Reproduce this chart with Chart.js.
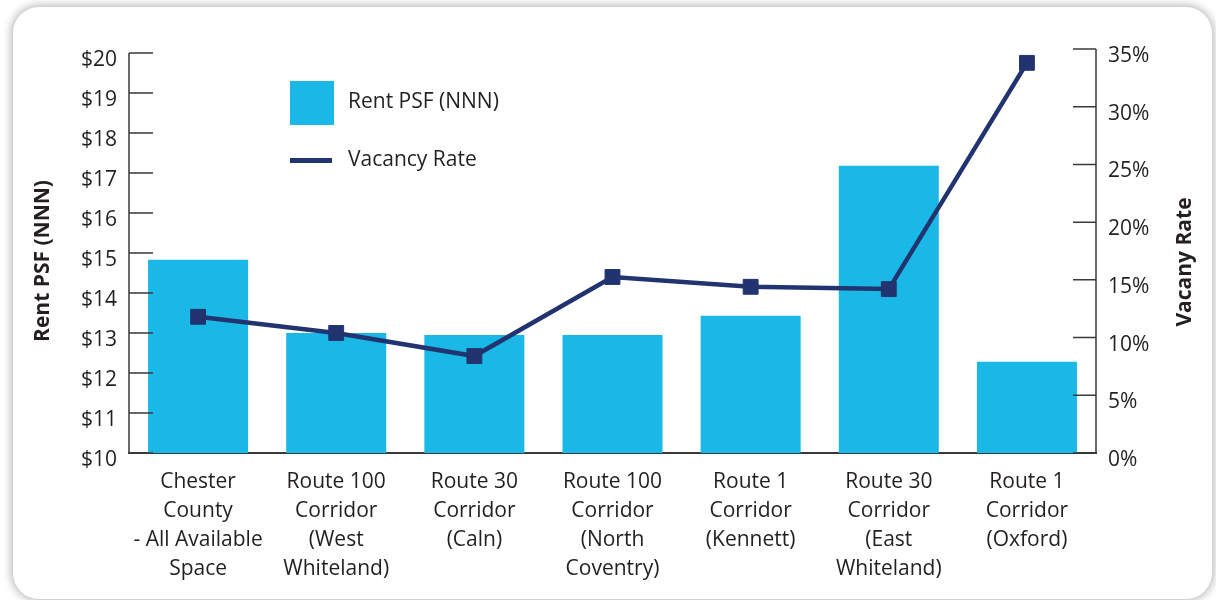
<!DOCTYPE html>
<html>
<head>
<meta charset="utf-8">
<script src="https://cdn.jsdelivr.net/npm/chart.js@4.4.1/dist/chart.umd.min.js"></script>
<style>
  html, body { margin: 0; padding: 0; background: #ffffff; }
  #wrap { position: relative; width: 1216px; height: 600px; overflow: hidden; }
  #card { position: absolute; left: 13px; top: 7px; width: 1199px; height: 592px;
          background: #fff; border-radius: 26px; box-shadow: 0 0 9px 2px rgba(0,0,0,0.28); }
  #c { position: absolute; left: 0; top: 0; }
</style>
</head>
<body>
<div id="wrap">
  <div id="card"></div>
  <canvas id="c" width="1216" height="600"></canvas>
</div>
<script>
const categories = [
  ["Chester", "County", "- All Available", "Space"],
  ["Route 100", "Corridor", "(West", "Whiteland)"],
  ["Route 30", "Corridor", "(Caln)"],
  ["Route 100", "Corridor", "(North", "Coventry)"],
  ["Route 1", "Corridor", "(Kennett)"],
  ["Route 30", "Corridor", "(East", "Whiteland)"],
  ["Route 1", "Corridor", "(Oxford)"]
];
const rentPSF = [14.83, 13.0, 12.95, 12.95, 13.43, 17.18, 12.28];
const vacancyRate = [11.8, 10.4, 8.4, 15.25, 14.4, 14.2, 33.8];
const rentTicks = [10, 11, 12, 13, 14, 15, 16, 17, 18, 19, 20];
const vacancyTicks = [0, 5, 10, 15, 20, 25, 30, 35];
const leftTitle = 'Rent PSF (NNN)';
const rightTitle = 'Vacany Rate';

const BAR_COLOR = '#1ab8e6';
const LINE_COLOR = '#22346f';
const TEXT_COLOR = '#231f20';
const AXIS_COLOR = '#3a3a3a';
const FONT = '"Open Sans", "DejaVu Sans", sans-serif';

const axisPlugin = {
  id: 'axisPlugin',
  afterDraw(chart) {
    const ctx = chart.ctx;
    const yL = chart.scales.yRent, yR = chart.scales.yVac;
    ctx.save();
    ctx.strokeStyle = AXIS_COLOR;
    ctx.lineWidth = 1.5;
    // left axis
    const lx = chart.chartArea.left;
    ctx.beginPath();
    ctx.moveTo(lx, yL.getPixelForValue(rentTicks[rentTicks.length - 1]));
    ctx.lineTo(lx, yL.getPixelForValue(rentTicks[0]));
    rentTicks.forEach(v => {
      const y = yL.getPixelForValue(v);
      ctx.moveTo(lx, y); ctx.lineTo(lx + 24, y);
    });
    ctx.stroke();
    // right axis
    const rx = chart.chartArea.right;
    ctx.beginPath();
    ctx.moveTo(rx, yR.getPixelForValue(vacancyTicks[vacancyTicks.length - 1]));
    ctx.lineTo(rx, yR.getPixelForValue(vacancyTicks[0]));
    vacancyTicks.forEach(v => {
      const y = yR.getPixelForValue(v);
      ctx.moveTo(rx, y); ctx.lineTo(rx - 23, y);
    });
    ctx.stroke();

    // axis titles (both read bottom-to-top)
    ctx.fillStyle = TEXT_COLOR;
    ctx.font = 'bold 21px ' + FONT;
    ctx.textAlign = 'center';
    ctx.textBaseline = 'middle';
    ctx.save();
    ctx.translate(43, 261);
    ctx.rotate(-Math.PI / 2);
    ctx.fillText(leftTitle, 0, 0);
    ctx.restore();
    ctx.save();
    ctx.translate(1185, 262);
    ctx.rotate(-Math.PI / 2);
    ctx.fillText(rightTitle, 0, 0);
    ctx.restore();

    // legend
    const ds = chart.data.datasets;
    ctx.fillStyle = ds[1].backgroundColor;
    ctx.fillRect(290, 81, 44, 44);
    ctx.strokeStyle = ds[0].borderColor;
    ctx.lineWidth = 5;
    ctx.beginPath();
    ctx.moveTo(290, 160.5); ctx.lineTo(332, 160.5);
    ctx.stroke();
    ctx.fillStyle = TEXT_COLOR;
    ctx.font = '21px ' + FONT;
    ctx.textAlign = 'left';
    ctx.textBaseline = 'middle';
    ctx.fillText(ds[1].label, 348, 102);
    ctx.fillText(ds[0].label, 348, 160);
    ctx.restore();
  }
};

new Chart(document.getElementById('c'), {
  data: {
    labels: categories,
    datasets: [
      {
        type: 'line',
        label: 'Vacancy Rate',
        data: vacancyRate,
        yAxisID: 'yVac',
        borderColor: LINE_COLOR,
        backgroundColor: LINE_COLOR,
        borderWidth: 4.5,
        tension: 0,
        pointStyle: 'rect',
        pointRadius: 10.5,
        pointBorderWidth: 1,
        pointBackgroundColor: LINE_COLOR,
        pointBorderColor: LINE_COLOR,
        order: 0
      },
      {
        type: 'bar',
        label: 'Rent PSF (NNN)',
        data: rentPSF,
        yAxisID: 'yRent',
        backgroundColor: BAR_COLOR,
        borderWidth: 0,
        categoryPercentage: 1.0,
        barPercentage: 0.724,
        order: 1
      }
    ]
  },
  options: {
    responsive: false,
    animation: false,
    events: [],
    layout: { padding: { top: 49, left: 0, right: 0, bottom: 0 } },
    plugins: { legend: { display: false }, tooltip: { enabled: false } },
    scales: {
      x: {
        offset: true,
        grid: { display: false, drawTicks: false },
        border: { display: true, color: AXIS_COLOR, width: 2 },
        ticks: {
          color: TEXT_COLOR,
          font: { family: FONT, size: 21, lineHeight: 1.38 },
          padding: 15,
          maxRotation: 0,
          minRotation: 0,
          autoSkip: false
        },
        afterFit(scale) { scale.height = 147; }
      },
      yRent: {
        position: 'left',
        min: 10,
        max: 20.1,
        grid: { display: false, drawTicks: false },
        border: { display: false },
        afterBuildTicks(scale) { scale.ticks = rentTicks.map(v => ({ value: v })); },
        ticks: {
          color: TEXT_COLOR,
          font: { family: FONT, size: 21 },
          padding: 12,
          labelOffset: 7,
          callback: v => '$' + v
        },
        title: { display: false },
        afterFit(scale) { scale.width = 129; }
      },
      yVac: {
        position: 'right',
        min: 0,
        max: 35,
        grid: { display: false, drawTicks: false },
        border: { display: false },
        afterBuildTicks(scale) { scale.ticks = vacancyTicks.map(v => ({ value: v })); },
        ticks: {
          color: TEXT_COLOR,
          font: { family: FONT, size: 21 },
          padding: 12,
          labelOffset: 7,
          callback: v => v + '%'
        },
        title: { display: false },
        afterFit(scale) { scale.width = 120; }
      }
    }
  },
  plugins: [axisPlugin]
});
</script>
</body>
</html>
